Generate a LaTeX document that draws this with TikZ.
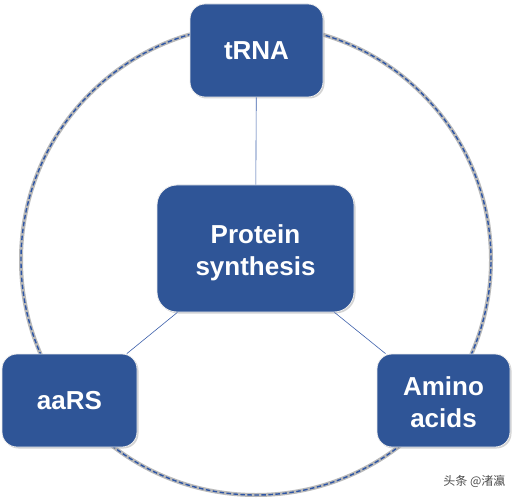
\documentclass[tikz,border=0pt]{standalone}
\usepackage{fontspec}
\setmainfont{Liberation Sans}
\newfontfamily\cjk{Noto Sans CJK SC}
\usetikzlibrary{positioning,shadows}
\definecolor{BoxBlue}{RGB}{47,85,151}
\definecolor{LineBlue}{RGB}{60,95,170}
\definecolor{RingBlue}{RGB}{45,85,165}
\newcommand{\twolines}[2]{\raisebox{-5pt}[\height][\depth]{\begin{tabular}{@{}c@{}}#1\\#2\end{tabular}}}

\begin{document}
\begin{tikzpicture}[
    x=1pt, y=1pt,
    font=\fontsize{26}{32}\selectfont\bfseries,
    box/.style={
        draw=white!85!gray,
        line width=0.8pt,
        rounded corners=15pt,
        fill=BoxBlue,
        text=white,
        inner sep=0pt,
        drop shadow={opacity=0.35, shadow xshift=1.5pt, shadow yshift=-1.5pt}
    },
    link/.style={
        draw=LineBlue,
        line width=0.6pt
    }
]

\useasboundingbox (0,0) rectangle (516,501);

% dashed ring behind the boxes
\draw[gray!55, line width=4pt] (256,241) circle (235);
\draw[RingBlue, line width=1.4pt, dash pattern=on 4.5pt off 2.5pt] (256,241) circle (235);

\node[box, minimum width=133, minimum height=93] (trna) at (256.5,450.5) {tRNA};
\node[box, minimum width=197, minimum height=127, rounded corners=20pt] (prot) at (255.5,252.5) {\twolines{Protein}{synthesis}};
\node[box, minimum width=135, minimum height=93] (aars) at (69.5,100.5) {aaRS};
\node[box, minimum width=133, minimum height=93] (amino) at (443.5,100.5) {\twolines{Amino}{acids}};

\draw[link] (trna) -- (prot);
\draw[link] (prot) -- (aars);
\draw[link] (prot) -- (amino);

\node[font=\cjk\fontsize{12}{14}\selectfont, text=black!70, anchor=east] (mark) at (509,20) {头条 @渚瀛};

\end{tikzpicture}
\end{document}
